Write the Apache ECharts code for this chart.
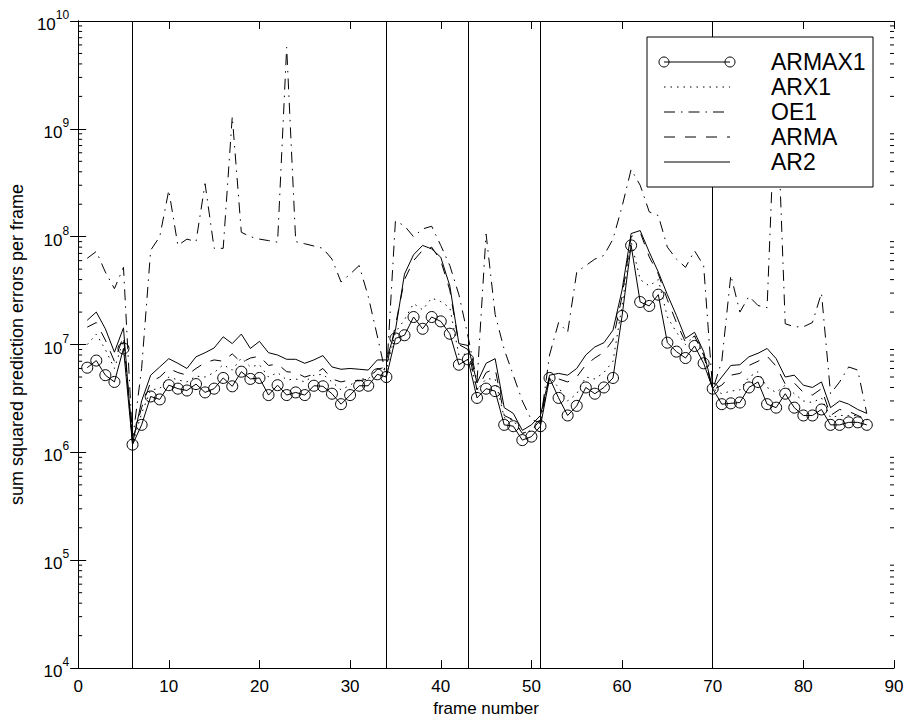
<!DOCTYPE html>
<html>
<head>
<meta charset="utf-8">
<script src="https://cdn.jsdelivr.net/npm/echarts@6/dist/echarts.min.js"></script>
<style>
html,body{margin:0;padding:0;background:#fff;}
#chart{width:907px;height:722px;}
</style>
</head>
<body>
<div id="chart"></div>
<script>
const frames = [1,2,3,4,5,6,7,8,9,10,11,12,13,14,15,16,17,18,19,20,21,22,23,24,25,26,27,28,29,30,
31,32,33,34,35,36,37,38,39,40,41,42,43,44,45,46,47,48,49,50,51,52,53,54,55,56,57,58,59,60,
61,62,63,64,65,66,67,68,69,70,71,72,73,74,75,76,77,78,79,80,81,82,83,84,85,86,87];

const armax1 = [6.1e6,7.1e6,5.2e6,4.5e6,9.2e6,1.18e6,1.8e6,3.3e6,3.1e6,4.2e6,
3.9e6,3.75e6,4.3e6,3.6e6,3.9e6,4.9e6,4.1e6,5.6e6,4.8e6,4.9e6,
3.4e6,4.2e6,3.4e6,3.6e6,3.4e6,4.15e6,4.1e6,3.5e6,2.8e6,3.4e6,
4.15e6,4.15e6,5.3e6,5.0e6,1.14e7,1.22e7,1.8e7,1.4e7,1.8e7,1.64e7,
1.26e7,6.5e6,7.3e6,3.2e6,3.9e6,3.7e6,1.8e6,1.75e6,1.3e6,1.4e6,
1.75e6,4.9e6,3.2e6,2.2e6,2.7e6,4.0e6,3.5e6,4.0e6,4.9e6,1.84e7,
8.3e7,2.48e7,2.28e7,2.9e7,1.04e7,8.6e6,7.5e6,9.7e6,6.7e6,3.9e6,
2.8e6,2.85e6,2.9e6,4.0e6,4.5e6,2.8e6,2.6e6,3.5e6,2.6e6,2.2e6,
2.2e6,2.5e6,1.8e6,1.8e6,1.9e6,1.9e6,1.8e6];

const arx1 = [1.0e7,1.25e7,9.0e6,6.0e6,1.1e7,1.2e6,2.3e6,3.8e6,3.9e6,5.0e6,
4.7e6,4.5e6,5.1e6,5.0e6,5.5e6,6.5e6,5.8e6,7.5e6,6.2e6,6.5e6,
5.0e6,5.5e6,4.7e6,4.8e6,4.5e6,5.2e6,5.3e6,4.5e6,3.8e6,4.2e6,
4.8e6,4.8e6,6.0e6,5.8e6,1.3e7,1.7e7,2.4e7,2.1e7,2.7e7,2.5e7,
2.2e7,8.0e6,8.2e6,3.8e6,4.8e6,4.8e6,2.1e6,2.0e6,1.5e6,1.6e6,
1.9e6,5.0e6,4.0e6,3.0e6,3.5e6,5.0e6,4.8e6,5.5e6,7.0e6,2.3e7,
9.0e7,4.0e7,3.5e7,4.0e7,1.8e7,1.3e7,1.0e7,1.2e7,8.0e6,3.9e6,
3.5e6,3.7e6,3.8e6,5.0e6,5.6e6,4.0e6,3.6e6,4.2e6,3.5e6,3.0e6,
2.9e6,3.2e6,2.1e6,2.2e6,2.2e6,2.2e6,2.0e6];

const oe1 = [6.3e7,7.3e7,4.7e7,3.3e7,5.2e7,1.3e6,6.0e6,7.5e7,1.0e8,2.7e8,
8.3e7,9.5e7,9.0e7,3.1e8,7.8e7,7.8e7,1.3e9,1.1e8,1.0e8,9.5e7,
9.2e7,8.9e7,5.7e9,9.0e7,8.6e7,8.2e7,7.8e7,6.2e7,3.8e7,4.5e7,
5.4e7,2.8e7,1.2e7,5.0e6,1.4e8,1.26e8,1.0e8,1.18e8,1.25e8,8.3e7,
5.4e7,2.9e7,1.2e7,4.5e6,1.06e8,1.9e7,9.0e6,5.2e6,3.0e6,2.0e6,
1.9e6,8.0e6,1.6e7,1.3e7,4.7e7,5.4e7,6.2e7,6.7e7,9.5e7,1.9e8,
4.2e8,3.0e8,1.7e8,1.57e8,8.0e7,6.2e7,5.2e7,7.4e7,5.4e7,3.8e6,
7.0e6,4.4e7,2.0e7,2.8e7,2.3e7,2.2e7,3.0e9,1.56e7,1.46e7,1.46e7,
1.6e7,3.0e7,3.5e6,4.5e6,6.2e6,5.8e6,2.3e6];

const arma = [1.45e7,1.6e7,1.1e7,7.0e6,1.2e7,1.3e6,2.6e6,4.5e6,5.0e6,6.0e6,
5.5e6,5.2e6,6.0e6,6.8e6,7.2e6,7.0e6,8.2e6,6.8e6,7.5e6,7.8e6,
6.4e6,6.6e6,5.6e6,5.5e6,5.0e6,5.3e6,6.0e6,4.8e6,4.5e6,4.7e6,
4.6e6,4.8e6,5.9e6,6.2e6,1.5e7,4.0e7,6.0e7,7.5e7,8.0e7,6.0e7,
3.2e7,1.0e7,9.0e6,3.8e6,5.5e6,6.0e6,2.2e6,2.0e6,1.5e6,1.6e6,
2.0e6,5.0e6,4.8e6,4.5e6,5.0e6,6.5e6,7.5e6,8.5e6,1.1e7,2.8e7,
1.0e8,1.1e8,6.5e7,4.5e7,2.6e7,1.6e7,1.05e7,1.2e7,8.0e6,3.8e6,
4.2e6,5.2e6,5.4e6,6.4e6,7.0e6,7.8e6,6.3e6,4.3e6,4.4e6,3.6e6,
3.4e6,3.9e6,2.2e6,2.5e6,2.4e6,2.2e6,2.0e6];

const ar2 = [1.68e7,2.0e7,1.4e7,8.5e6,1.43e7,1.2e6,3.0e6,5.2e6,6.2e6,7.4e6,
6.7e6,6.0e6,7.7e6,8.4e6,9.3e6,1.18e7,1.02e7,1.25e7,9.2e6,1.07e7,
8.4e6,8.0e6,7.3e6,7.3e6,6.7e6,7.2e6,7.9e6,6.2e6,5.9e6,6.0e6,
5.9e6,5.8e6,7.2e6,7.2e6,1.36e7,4.5e7,6.8e7,8.3e7,7.7e7,6.45e7,
3.5e7,1.02e7,9.8e6,4.4e6,6.7e6,7.4e6,2.6e6,2.3e6,1.6e6,1.8e6,
2.2e6,5.2e6,5.4e6,5.2e6,6.0e6,8.0e6,9.5e6,1.04e7,1.36e7,3.2e7,
1.07e8,1.14e8,7.2e7,4.7e7,2.9e7,1.86e7,1.14e7,1.3e7,8.6e6,3.9e6,
5.0e6,6.4e6,6.5e6,7.7e6,8.3e6,9.2e6,7.4e6,5.0e6,5.2e6,4.2e6,
4.0e6,4.5e6,2.6e6,3.0e6,2.8e6,2.5e6,2.3e6];

const boundaries = [6, 34, 43, 51, 70];
const legendNames = ['ARMAX1','ARX1','OE1','ARMA','AR2'];

const FONT = 'Liberation Sans, Arial, Helvetica, sans-serif';
const DOT = [1.5, 5];
const DASHDOT = [11, 6, 1.5, 6];
const DASH = [11, 10];

function pairs(arr){ return frames.map((f,i)=>[f, arr[i]]); }

const chart = echarts.init(document.getElementById('chart'), null, {renderer:'svg'});

const axisLine = {show:true, lineStyle:{color:'#000', width:1}};

const option = {
  animation:false,
  backgroundColor:'#fff',
  grid:{left:70, right:13, top:21, bottom:52, containLabel:false},
  xAxis:[
    {type:'value', min:0, max:90, interval:10, position:'bottom',
     axisLine:axisLine, axisTick:{inside:true, length:8, lineStyle:{color:'#000'}},
     splitLine:{show:false},
     axisLabel:{color:'#000', fontSize:17, fontFamily:FONT, margin:10},
     name:'frame number', nameLocation:'middle', nameGap:30,
     nameTextStyle:{color:'#000', fontSize:17, fontFamily:FONT}},
    {type:'value', min:0, max:90, interval:10, position:'top',
     axisLine:axisLine, axisTick:{inside:true, length:8, lineStyle:{color:'#000'}},
     splitLine:{show:false}, axisLabel:{show:false}}
  ],
  yAxis:[
    {type:'log', logBase:10, min:1e4, max:1e10, position:'left',
     axisLine:axisLine, axisTick:{inside:true, length:8, lineStyle:{color:'#000'}},
     splitLine:{show:false},
     axisLabel:{margin:9, formatter:function(v){
        const e = Math.round(Math.log10(v));
        return '{b|10}{s|' + e + '}';
     }, rich:{
        b:{fontSize:17, fontFamily:FONT, color:'#000', verticalAlign:'bottom', lineHeight:24},
        s:{fontSize:12, fontFamily:FONT, color:'#000', verticalAlign:'top', lineHeight:24}
     }},
     name:'sum squared prediction errors per frame', nameLocation:'middle', nameGap:42,
     nameTextStyle:{color:'#000', fontSize:18, fontFamily:FONT}},
    {type:'log', logBase:10, min:1e4, max:1e10, position:'right',
     axisLine:axisLine, axisTick:{inside:true, length:8, lineStyle:{color:'#000'}},
     splitLine:{show:false}, axisLabel:{show:false}}
  ],
  series:[
    {name:'AR2', type:'line', data:pairs(ar2), symbol:'none',
     lineStyle:{color:'#000', width:1, type:'solid'},
     markLine:{silent:true, symbol:['none','none'], label:{show:false},
       lineStyle:{color:'#000', width:1, type:'solid'},
       data: boundaries.map(b=>({xAxis:b}))}},
    {name:'ARMA', type:'line', data:pairs(arma), symbol:'none',
     lineStyle:{color:'#000', width:1, type:DASH}},
    {name:'OE1', type:'line', data:pairs(oe1), symbol:'none',
     lineStyle:{color:'#000', width:1, type:DASHDOT}},
    {name:'ARX1', type:'line', data:pairs(arx1), symbol:'none',
     lineStyle:{color:'#000', width:1, type:DOT}},
    {name:'ARMAX1', type:'line', data:pairs(armax1), symbol:'circle', symbolSize:11,
     itemStyle:{color:'rgba(0,0,0,0)', borderColor:'#000', borderWidth:1},
     lineStyle:{color:'#000', width:1, type:'solid'}}
  ]
};
chart.setOption(option);

// minor ticks (2..9 x 10^k) on both log axes, plus legend box
const g = [];
for (let k = 4; k < 10; k++) {
  for (let m = 2; m <= 9; m++) {
    const v = m * Math.pow(10, k);
    const p = chart.convertToPixel({xAxisIndex:0, yAxisIndex:0}, [0, v]);
    const pr = chart.convertToPixel({xAxisIndex:0, yAxisIndex:0}, [90, v]);
    g.push({type:'line', silent:true, z:50, shape:{x1:p[0], y1:p[1], x2:p[0]+4, y2:p[1]}, style:{stroke:'#000', lineWidth:1}});
    g.push({type:'line', silent:true, z:50, shape:{x1:pr[0]-4, y1:pr[1], x2:pr[0], y2:pr[1]}, style:{stroke:'#000', lineWidth:1}});
  }
}
// legend
const LX = 647, LY = 37, LW = 226, LH = 150;
g.push({type:'rect', z:100, shape:{x:LX, y:LY, width:LW, height:LH}, style:{fill:'#fff', stroke:'#000', lineWidth:1}});
const rowY = [62, 87, 112, 137, 162];
const dashes = [null, DOT, DASHDOT, DASH, null];
legendNames.forEach((nm, i) => {
  const y = rowY[i];
  g.push({type:'line', z:101, shape:{x1:664, y1:y, x2:730, y2:y},
    style:{stroke:'#000', lineWidth:1, lineDash:dashes[i] || null}});
  if (i === 0) {
    g.push({type:'circle', z:102, shape:{cx:664, cy:y, r:5}, style:{fill:'rgba(0,0,0,0)', stroke:'#000', lineWidth:1}});
    g.push({type:'circle', z:102, shape:{cx:730, cy:y, r:5}, style:{fill:'rgba(0,0,0,0)', stroke:'#000', lineWidth:1}});
  }
  g.push({type:'text', z:102, x:771, y:y, style:{text:nm, fill:'#000', font:'23px ' + FONT, textVerticalAlign:'middle', verticalAlign:'middle'}});
});
chart.setOption({graphic: g});
</script>
</body>
</html>
